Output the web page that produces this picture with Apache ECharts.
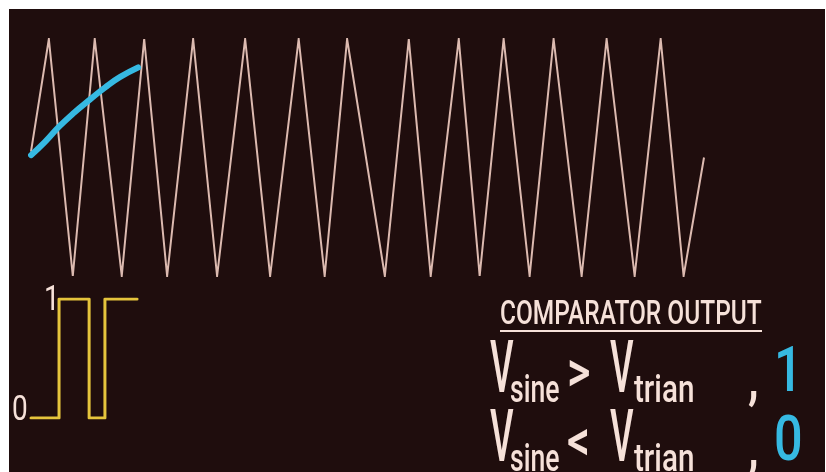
<!DOCTYPE html>
<html><head><meta charset="utf-8">
<script src="https://cdn.jsdelivr.net/npm/echarts@6/dist/echarts.min.js"></script>
<style>html,body{margin:0;padding:0;background:#fff}#c{width:826px;height:472px}</style>
</head><body><div id="c"></div>
<script>
// time (periods of the carrier) and normalised voltage
const triTime = [0, 0.35, 0.82, 1.25, 1.78, 2.22, 2.67, 3.18, 3.65, 4.20, 4.69, 5.25, 5.76, 6.20, 6.94, 7.41, 7.84, 8.39, 8.80, 9.27, 9.78, 10.25, 10.80, 11.29, 11.84, 12.35, 12.80, 13.20];
const triVolt = [0.05, 1, -1, 1, -1, 1, -1, 1, -1, 1, -1, 1, -1, 1, -1, 1, -1, 1, -1, 1, -1, 1, -1, 1, -1, 1, -1, 0.0];
const sineTime = [0, 0.27, 0.55, 0.85, 1.16, 1.45, 1.75, 2.10];
const sineVolt = [0.02, 0.13, 0.26, 0.38, 0.49, 0.59, 0.68, 0.76];
const pwmTime = [0, 0.55, 1.14, 1.45, 2.08];
const pwmLevel = [0, 1, 0, 1, 1];
const levelLabels = ['0', '1'];
const title = 'COMPARATOR OUTPUT';
const sub1 = 'sine', sub2 = 'trian';

const BG = '#1f0d0d', FG = '#f6e1d9', CYAN = '#36b9e2', YEL = '#e5c43c', TRI = '#dcbab0';
const zip = (a, b) => a.map((v, i) => [v, b[i]]);
const chart = echarts.init(document.getElementById('c'), null, {renderer: 'canvas'});
const F = 'Roboto, "Noto Sans", sans-serif';
function txt(s, x, y, size, sx, color, weight) {
  return {type: 'text', x: x, y: y, scaleX: sx, z: 10,
    style: {text: s, fill: color || FG, font: (weight || 500) + ' ' + size + 'px ' + F, align: 'left', verticalAlign: 'middle'}};
}
const g = [
  {type: 'rect', shape: {x: 9, y: 9, width: 816, height: 463}, style: {fill: BG}, z: -100, silent: true},
  txt(levelLabels[1], 44, 301, 35, 0.8, FG, 400),
  txt(levelLabels[0], 12, 411, 35, 0.8, FG, 400),
  txt(title, 500, 315, 34, 0.72, FG, 500),
  {type: 'line', shape: {x1: 500, y1: 331, x2: 762, y2: 331}, style: {stroke: FG, lineWidth: 2}, z: 10},
];
[[0, '>', '1'], [69, '<', '0']].forEach(function (r) {
  const d = r[0];
  g.push(txt('V', 490, 374 + d, 73, 0.5, FG, 500));
  g.push(txt(sub1, 510, 392 + d, 38, 0.7, FG, 500));
  g.push(txt(r[1], 567, 376 + d, 58, 0.78, FG, 500));
  g.push(txt('V', 610, 374 + d, 73, 0.5, FG, 500));
  g.push(txt(sub2, 634, 392 + d, 38, 0.78, FG, 500));
  g.push(txt(',', 748, 383 + d, 60, 0.8, FG, 500));
  g.push(txt(r[2], 774, 375 + d, 63, 0.8, CYAN, 500));
});
chart.setOption({
  animation: false,
  backgroundColor: '#fff',
  graphic: g,
  grid: [
    {left: 31, top: 39, width: 673, height: 237},
    {left: 31, top: 299, width: 673, height: 119}
  ],
  xAxis: [
    {type: 'value', gridIndex: 0, min: 0, max: 13.2, show: false},
    {type: 'value', gridIndex: 1, min: 0, max: 13.2, show: false}
  ],
  yAxis: [
    {type: 'value', gridIndex: 0, min: -1, max: 1, show: false},
    {type: 'value', gridIndex: 1, min: 0, max: 1, show: false}
  ],
  series: [
    {type: 'line', xAxisIndex: 0, yAxisIndex: 0, data: zip(triTime, triVolt), symbol: 'none',
      lineStyle: {color: TRI, width: 2, join: 'miter'}, z: 2},
    {type: 'line', xAxisIndex: 0, yAxisIndex: 0, data: zip(sineTime, sineVolt), symbol: 'none', smooth: true,
      lineStyle: {color: CYAN, width: 6, cap: 'round'}, z: 3},
    {type: 'line', xAxisIndex: 1, yAxisIndex: 1, data: zip(pwmTime, pwmLevel), step: 'end', symbol: 'none',
      lineStyle: {color: YEL, width: 3, join: 'round', cap: 'round'}, z: 3}
  ]
});
</script></body></html>
